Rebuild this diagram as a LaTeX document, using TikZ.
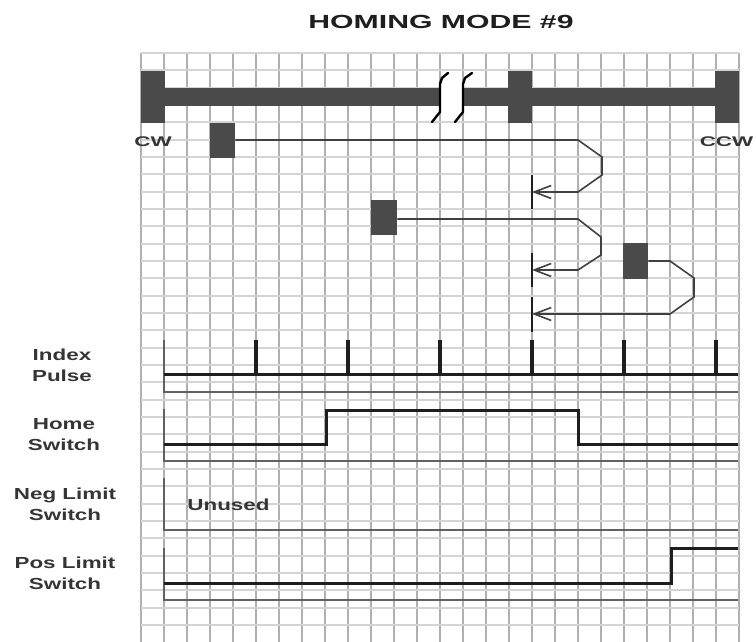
\documentclass[tikz,border=0pt]{standalone}
\usepackage{fontspec}
\setmainfont{Liberation Sans}
\usetikzlibrary{arrows.meta}
\definecolor{blockc}{HTML}{4A4A4A}
\definecolor{gridv}{HTML}{B0B0B4}
\definecolor{gridh}{HTML}{D4D4D4}
\definecolor{ink}{HTML}{1E1E1E}
\tikzset{
  x=1pt,y=-1pt,
  gridvline/.style={draw=gridv,line width=1.5pt},
  gridhline/.style={draw=gridh,line width=2pt},
  blockbox/.style={fill=blockc,draw=none,inner sep=0pt,anchor=north west},
  pathline/.style={draw=ink!85!white,line width=1.6pt,line join=miter},
  homearrow/.style={pathline,-{Straight Barb[length=17pt,width=13pt,line width=1.6pt]}},
  homemark/.style={draw=ink,line width=2.2pt},
  breakline/.style={draw=black,line width=2.4pt,line join=round,line cap=round},
  axisline/.style={draw=ink!70!white,line width=1.5pt},
  signal/.style={draw=ink,line width=3pt,line join=miter},
  pulse/.style={draw=ink,line width=3.5pt},
  lab/.style={font=\bfseries\fontsize{16}{21}\selectfont,text=ink!90!white,align=center,inner sep=0pt,transform shape,xscale=1.4},
  endlab/.style={font=\bfseries\fontsize{14}{14}\selectfont,text=ink!90!white,inner sep=0pt,transform shape,xscale=1.6},
}
\begin{document}
\begin{tikzpicture}
\useasboundingbox (0,0) rectangle (756,642);
% grid
\foreach \k in {0,...,26}{\draw[gridvline] ({141+23*\k},53) -- ({141+23*\k},642);}
\foreach \k in {0,...,33}{\draw[gridhline] (141,{53+17.33*\k}) -- (739,{53+17.33*\k});}
% title
\node[font=\bfseries\fontsize{19}{20}\selectfont,text=ink,inner sep=0pt,transform shape,xscale=1.59] (title) at (441,22) {HOMING MODE \#9};
% travel bar
\node[blockbox,minimum width=598pt,minimum height=18pt] (bar) at (141,88) {};
\fill[white] (441,87) rectangle (463,107);
\draw[gridvline] (463,87) -- (463,107);
\node[blockbox,minimum width=24pt,minimum height=52pt] (cwblock) at (141,71) {};
\node[blockbox,minimum width=24pt,minimum height=52pt] (midblock) at (508,71) {};
\node[blockbox,minimum width=24pt,minimum height=52pt] (ccwblock) at (715,71) {};
% break marks
\draw[breakline] (448,73) -- (442,78) -- (440,84) -- (440,112) -- (432,122);
\draw[breakline] (472,73) -- (465,78) -- (463,84) -- (463,112) -- (455,122);
\node[endlab] (cw) at (153,142) {CW};
\node[endlab] (ccw) at (726.5,142) {CCW};
% start blocks
\node[blockbox,minimum width=25pt,minimum height=35pt] (s1) at (210,123) {};
\node[blockbox,minimum width=26pt,minimum height=35pt] (s2) at (371,200) {};
\node[blockbox,minimum width=25pt,minimum height=36pt] (s3) at (623,243) {};
% home marks
\coordinate (h1t) at (532,175); \coordinate (h1b) at (532,209);
\coordinate (h2t) at (532,253); \coordinate (h2b) at (532,287);
\coordinate (h3t) at (532,297); \coordinate (h3b) at (532,332);
\draw[homemark] (h1t) -- (h1b);
\draw[homemark] (h2t) -- (h2b);
\draw[homemark] (h3t) -- (h3b);
\coordinate (e1) at (532,192); \coordinate (e2) at (532,270); \coordinate (e3) at (532,314);
\coordinate (m1) at (578,140); \coordinate (m2) at (578,219); \coordinate (m3) at (670,261);
% moves
\draw[homearrow] (s1.east |- m1) -- (m1) -- (602,157) -- (602,175) -- (578,192) -- (e1);
\draw[homearrow] (s2.east |- m2) -- (m2) -- (601,237) -- (601,255) -- (578,270) -- (e2);
\draw[homearrow] (s3.east |- m3) -- (m3) -- (694,278) -- (694,297) -- (670,314) -- (e3);
% index pulse
\node[lab] (lindex) at (62,365) {Index\\Pulse};
\coordinate (a1t) at (164,340); \coordinate (a1b) at (164,392); \coordinate (a1e) at (738,392);
\draw[axisline] (a1t) -- (a1b) -- (a1e);
\coordinate (sig1a) at (164,374); \coordinate (sig1b) at (738,374);
\draw[signal] (sig1a) -- (sig1b);
\foreach \x in {256,348,440,532,624,716}{\draw[pulse] (\x,374) -- (\x,340);}
% home switch
\node[lab] (lhome) at (64,435) {Home\\Switch};
\coordinate (a2t) at (164,409); \coordinate (a2b) at (164,461); \coordinate (a2e) at (738,461);
\draw[axisline,line width=2pt] (a2t) -- (a2b) -- (a2e);
\coordinate (sig2a) at (164,444); \coordinate (sig2b) at (738,444);
\draw[signal] (sig2a) -- (326,444) -- (326,410) -- (578,410) -- (578,444) -- (sig2b);
% neg limit
\node[lab] (lneg) at (65,504) {Neg Limit\\Switch};
\coordinate (a3t) at (164,478); \coordinate (a3b) at (164,530); \coordinate (a3e) at (738,530);
\draw[axisline] (a3t) -- (a3b) -- (a3e);
\node[lab] (unused) at (228.5,505) {Unused};
% pos limit
\node[lab] (lpos) at (65,573) {Pos Limit\\Switch};
\coordinate (a4t) at (164,548); \coordinate (a4b) at (164,600); \coordinate (a4e) at (738,600);
\draw[axisline] (a4t) -- (a4b) -- (a4e);
\coordinate (sig4a) at (164,583); \coordinate (sig4b) at (738,548);
\draw[signal] (sig4a) -- (671,583) -- (671,548) -- (sig4b);
\end{tikzpicture}
\end{document}
